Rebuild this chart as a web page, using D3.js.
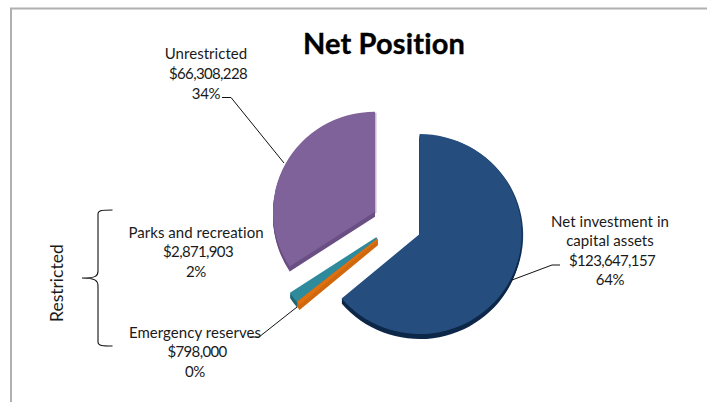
<!DOCTYPE html>
<html>
<head>
<meta charset="utf-8">
<script src="https://cdn.jsdelivr.net/npm/d3@7"></script>
<style>
  html, body { margin: 0; padding: 0; background: #fff; }
  svg { display: block; font-family: Lato, "Open Sans", sans-serif; fill: #1a1a1a; }
</style>
</head>
<body>
<svg id="chart" width="707" height="402"></svg>
<script>
// Net position by component, clockwise from twelve o'clock
const categories = ["Net investment in capital assets", "Emergency reserves", "Parks and recreation", "Unrestricted"];
const amounts = [123647157, 798000, 2871903, 66308228];
const shareLabels = ["64%", "0%", "2%", "34%"];
const faceColors = ["#254e7f", "#e0700f", "#2f8a9c", "#7f6299"];
const sideColors = ["#0d2748", "#d0680e", "#1f6573", "#6a4f84"];
const rimColors = ["#173a63", "#e0700f", "#2f8a9c", "#c9b8d8"];
const edgeWidths = [0, 1.6, 2.2, 0];

const svg = d3.select("#chart");
const cx = 397, cy = 223.5, rx = 102, ry = 100, explode = 25, depth = 5;

// Frame
svg.append("path").attr("d", "M11,402V8.5H707").attr("fill", "none").attr("stroke", "#b0b0b0").attr("stroke-width", 2);

// Title
svg.append("text").attr("x", 384).attr("y", 54).attr("text-anchor", "middle")
  .attr("font-size", 29).attr("font-weight", 700).attr("letter-spacing", 0.15)
  .attr("fill", "#000").attr("stroke", "#000").attr("stroke-width", 0.35).text("Net Position");

// Exploded pie, drawn with a squashed circle and an extruded edge
const arcs = d3.pie().value(d => d).sort(null)(amounts);
const arc = d3.arc().innerRadius(0).outerRadius(ry);
const midAngle = d => (d.startAngle + d.endAngle) / 2;
const xScale = rx / ry;

const slices = svg.selectAll("g.slice").data(arcs).join("g").attr("class", "slice")
  .attr("transform", d => `translate(${cx + explode * Math.sin(midAngle(d))},${cy - explode * Math.cos(midAngle(d))})`);

slices.append("path").attr("class", "rim").attr("d", arc)
  .attr("transform", `translate(1.5,1) scale(${xScale},1)`)
  .attr("fill", d => rimColors[d.index]);
slices.each(function (d) {
  const g = d3.select(this);
  d3.range(1, depth + 1).forEach(dy => {
    g.append("path").attr("d", arc(d))
      .attr("transform", `translate(0,${dy}) scale(${xScale},1)`)
      .attr("fill", sideColors[d.index])
      .attr("stroke", sideColors[d.index])
      .attr("stroke-width", edgeWidths[d.index]);
  });
});
slices.append("path").attr("class", "face").attr("d", arc)
  .attr("transform", `scale(${xScale},1)`)
  .attr("fill", d => faceColors[d.index])
  .attr("stroke", d => faceColors[d.index])
  .attr("stroke-width", d => edgeWidths[d.index]);
// The thinnest slice sits in front of its neighbour
slices.filter(d => d.index === 1).raise();

// Leader lines and the brace around the restricted components
const leaders = [
  [[512, 280], [552, 265], [560, 265]],
  [[297, 307], [259, 337], [250, 337]],
  [[284, 163], [231, 97.5], [222, 97.5]]
];
svg.selectAll("path.leader").data(leaders).join("path").attr("class", "leader")
  .attr("d", d3.line()).attr("fill", "none").attr("stroke", "#111").attr("stroke-width", 1);

svg.append("path")
  .attr("d", "M112.5,210C103,210 98,210 98,214V271C98,276 96,278 82,278C96,278 98,281 98,286V342C98,346 103,346 112.5,346")
  .attr("fill", "none").attr("stroke", "#111").attr("stroke-width", 1.1);

svg.append("text").attr("transform", "translate(63,322) rotate(-90)")
  .attr("font-size", 17.5).text("Restricted");

// Data labels: name, amount, share
const money = d3.format("$,");
const labelLayout = [
  { lines: ["Net investment in", "capital assets"], x: 610, y: 226.5 },
  { lines: ["Emergency reserves"], x: 195, y: 337.7 },
  { lines: ["Parks and recreation"], x: 196, y: 237.7 },
  { lines: ["Unrestricted"], x: 206, y: 59.3 }
];
labelLayout.forEach((l, i) => {
  const rows = [...l.lines, money(amounts[i]), shareLabels[i]];
  const t = svg.append("text").attr("text-anchor", "middle").attr("font-size", 15);
  rows.forEach((r, k) => {
    const isAmount = k === l.lines.length;
    t.append("tspan")
      .attr("x", isAmount ? l.x + 2 : l.x)
      .attr("y", l.y + k * 19.6)
      .attr("letter-spacing", isAmount ? -0.65 : (k < l.lines.length ? 0.05 : -0.3))
      .text(r);
  });
});
</script>
</body>
</html>
